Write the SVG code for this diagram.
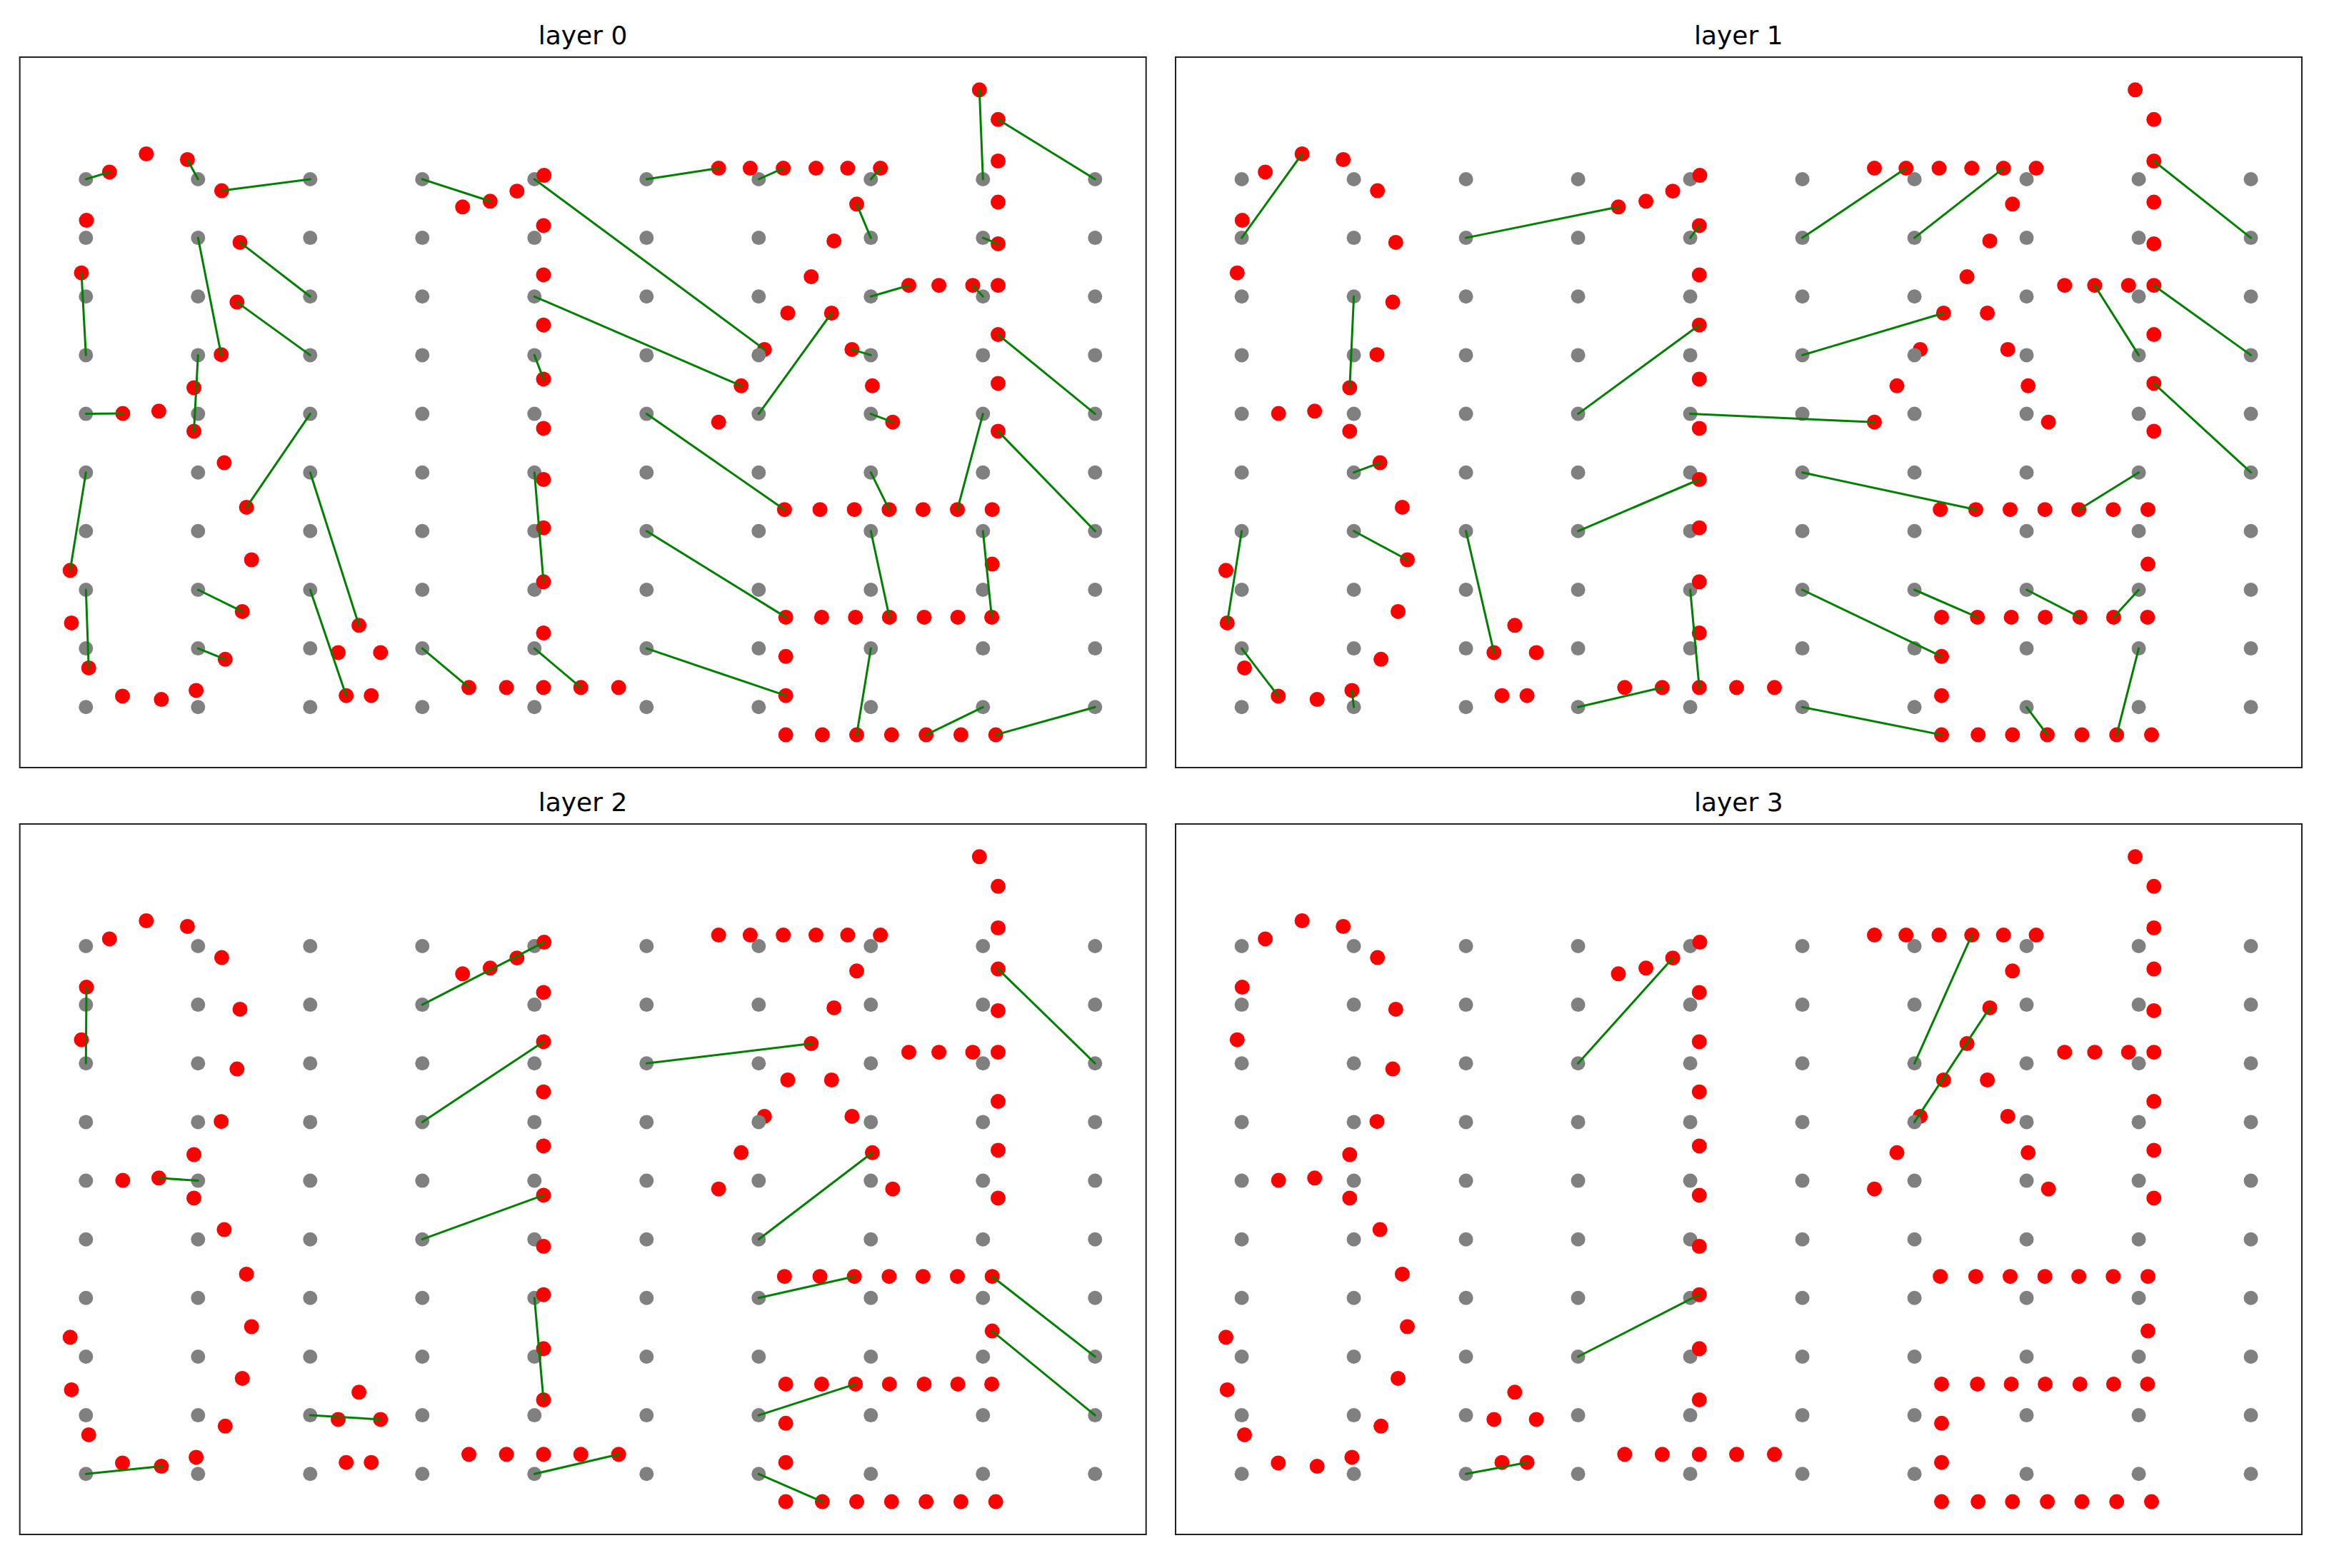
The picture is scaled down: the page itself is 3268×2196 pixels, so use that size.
<svg xmlns="http://www.w3.org/2000/svg" xmlns:xlink="http://www.w3.org/1999/xlink" width="3268" height="2196" viewBox="0 0 3268 2196">
<style>
.g{fill:#808080}
.r{fill:#ff0000}
.l{stroke:#008000;stroke-width:3;stroke-linecap:round;fill:none}
.f{fill:none;stroke:#222;stroke-width:2}
.t{font-family:"DejaVu Sans","Liberation Sans",sans-serif;font-size:36px;fill:#000;text-anchor:middle}
</style>
<defs>
<g id="gcol" class="g">
<circle cx="0" cy="251" r="10"/><circle cx="0" cy="333.1" r="10"/><circle cx="0" cy="415.3" r="10"/><circle cx="0" cy="497.4" r="10"/><circle cx="0" cy="579.6" r="10"/><circle cx="0" cy="661.7" r="10"/><circle cx="0" cy="743.8" r="10"/><circle cx="0" cy="826" r="10"/><circle cx="0" cy="908.1" r="10"/><circle cx="0" cy="990.3" r="10"/>
</g>
<g id="dots">
<circle class="r" cx="1070.3" cy="489.4" r="10.5"/>
<use href="#gcol" x="120.3"/><use href="#gcol" x="277.3"/><use href="#gcol" x="434.3"/><use href="#gcol" x="591.3"/><use href="#gcol" x="748.3"/><use href="#gcol" x="905.3"/><use href="#gcol" x="1062.3"/><use href="#gcol" x="1219.3"/><use href="#gcol" x="1376.3"/><use href="#gcol" x="1533.3"/>
<g class="r">
<circle cx="153.3" cy="240.9" r="10.5"/><circle cx="204.8" cy="215.5" r="10.5"/><circle cx="262.4" cy="223.5" r="10.5"/><circle cx="310.4" cy="267.1" r="10.5"/><circle cx="121" cy="308.6" r="10.5"/><circle cx="114" cy="382.2" r="10.5"/><circle cx="336" cy="339.4" r="10.5"/><circle cx="331.8" cy="423.1" r="10.5"/><circle cx="309.7" cy="496.7" r="10.5"/><circle cx="271.5" cy="543" r="10.5"/><circle cx="171.9" cy="579.1" r="10.5"/><circle cx="222.4" cy="575.8" r="10.5"/><circle cx="271.5" cy="603.9" r="10.5"/><circle cx="313.9" cy="648.1" r="10.5"/><circle cx="345.1" cy="710.4" r="10.5"/><circle cx="352.2" cy="784" r="10.5"/><circle cx="98.2" cy="798.8" r="10.5"/><circle cx="100" cy="872.4" r="10.5"/><circle cx="339.2" cy="856.4" r="10.5"/><circle cx="315.3" cy="923.3" r="10.5"/><circle cx="124.2" cy="935.4" r="10.5"/><circle cx="171.5" cy="974.9" r="10.5"/><circle cx="225.9" cy="979.6" r="10.5"/><circle cx="274.6" cy="966.9" r="10.5"/>
<circle cx="502.6" cy="875.8" r="10.5"/><circle cx="473.5" cy="913.9" r="10.5"/><circle cx="532.8" cy="913.9" r="10.5"/><circle cx="484.7" cy="974.2" r="10.5"/><circle cx="519.8" cy="974.2" r="10.5"/>
<circle cx="647.7" cy="289.8" r="10.5"/><circle cx="686.3" cy="281.8" r="10.5"/><circle cx="723.8" cy="267.7" r="10.5"/><circle cx="761.7" cy="245.6" r="10.5"/><circle cx="761" cy="315.9" r="10.5"/><circle cx="761" cy="384.9" r="10.5"/><circle cx="761" cy="455.2" r="10.5"/><circle cx="761" cy="530.9" r="10.5"/><circle cx="761" cy="599.9" r="10.5"/><circle cx="761" cy="671.5" r="10.5"/><circle cx="761" cy="739.2" r="10.5"/><circle cx="761" cy="814.8" r="10.5"/><circle cx="761" cy="886.5" r="10.5"/><circle cx="656.5" cy="962.8" r="10.5"/><circle cx="709.1" cy="962.8" r="10.5"/><circle cx="761" cy="962.8" r="10.5"/><circle cx="813.2" cy="962.8" r="10.5"/><circle cx="866.2" cy="962.8" r="10.5"/>
<circle cx="1006.2" cy="235.6" r="10.5"/><circle cx="1050.4" cy="235.6" r="10.5"/><circle cx="1096.7" cy="235.6" r="10.5"/><circle cx="1142.5" cy="235.6" r="10.5"/><circle cx="1186.9" cy="235.6" r="10.5"/><circle cx="1232.7" cy="235.6" r="10.5"/><circle cx="1199.5" cy="285.8" r="10.5"/><circle cx="1167.7" cy="337.4" r="10.5"/><circle cx="1135.8" cy="387.6" r="10.5"/><circle cx="1103" cy="438.5" r="10.5"/><circle cx="1037.7" cy="540.3" r="10.5"/><circle cx="1006.2" cy="591.2" r="10.5"/><circle cx="1164.3" cy="438.5" r="10.5"/><circle cx="1192.9" cy="489.4" r="10.5"/><circle cx="1221.4" cy="540.3" r="10.5"/><circle cx="1249.9" cy="591.2" r="10.5"/><circle cx="1272.5" cy="399.7" r="10.5"/><circle cx="1314.6" cy="399.7" r="10.5"/><circle cx="1362" cy="399.7" r="10.5"/><circle cx="1371.3" cy="125.8" r="10.5"/><circle cx="1397.5" cy="167.3" r="10.5"/><circle cx="1397.5" cy="225.5" r="10.5"/><circle cx="1397.5" cy="283.1" r="10.5"/><circle cx="1397.5" cy="341.4" r="10.5"/><circle cx="1397.5" cy="399.7" r="10.5"/><circle cx="1397.5" cy="468.6" r="10.5"/><circle cx="1397.5" cy="536.9" r="10.5"/><circle cx="1397.5" cy="603.9" r="10.5"/>
<circle cx="1098.4" cy="713.7" r="10.5"/><circle cx="1148.1" cy="713.7" r="10.5"/><circle cx="1196.2" cy="713.7" r="10.5"/><circle cx="1244.9" cy="713.7" r="10.5"/><circle cx="1292.4" cy="713.7" r="10.5"/><circle cx="1340.5" cy="713.7" r="10.5"/><circle cx="1389.2" cy="713.7" r="10.5"/><circle cx="1389.2" cy="790.1" r="10.5"/>
<circle cx="1100.2" cy="864.4" r="10.5"/><circle cx="1150.4" cy="864.4" r="10.5"/><circle cx="1197.8" cy="864.4" r="10.5"/><circle cx="1245.3" cy="864.4" r="10.5"/><circle cx="1294" cy="864.4" r="10.5"/><circle cx="1341.1" cy="864.4" r="10.5"/><circle cx="1388.6" cy="864.4" r="10.5"/><circle cx="1100.2" cy="919.3" r="10.5"/><circle cx="1100.2" cy="974.2" r="10.5"/>
<circle cx="1100.2" cy="1029.1" r="10.5"/><circle cx="1151.4" cy="1029.1" r="10.5"/><circle cx="1199.5" cy="1029.1" r="10.5"/><circle cx="1248.3" cy="1029.1" r="10.5"/><circle cx="1296.7" cy="1029.1" r="10.5"/><circle cx="1345.4" cy="1029.1" r="10.5"/><circle cx="1394.2" cy="1029.1" r="10.5"/>
</g>
</g>
</defs>
<rect x="0" y="0" width="3268" height="2196" fill="#fff"/>

<g id="layer0">
<rect class="f" x="27.7" y="80" width="1577" height="995"/>
<text class="t" x="816" y="62">layer 0</text>
<use href="#dots"/>
<g id="layer0-connectors" class="l">
<line x1="120.3" y1="251" x2="153.3" y2="240.9"/><line x1="277.3" y1="251" x2="262.4" y2="223.5"/><line x1="434.3" y1="251" x2="310.4" y2="267.1"/><line x1="277.3" y1="333.1" x2="309.7" y2="496.7"/><line x1="434.3" y1="415.3" x2="336" y2="339.4"/><line x1="434.3" y1="497.4" x2="331.8" y2="423.1"/><line x1="120.3" y1="497.4" x2="114" y2="382.2"/><line x1="277.3" y1="497.4" x2="271.5" y2="603.9"/><line x1="120.3" y1="579.6" x2="171.9" y2="579.1"/><line x1="434.3" y1="579.6" x2="345.1" y2="710.4"/><line x1="120.3" y1="661.7" x2="98.2" y2="798.8"/><line x1="434.3" y1="661.7" x2="502.6" y2="875.8"/><line x1="120.3" y1="826" x2="124.2" y2="935.4"/><line x1="277.3" y1="826" x2="339.2" y2="856.4"/><line x1="434.3" y1="826" x2="484.7" y2="974.2"/><line x1="277.3" y1="908.1" x2="315.3" y2="923.3"/>
<line x1="591.3" y1="251" x2="686.3" y2="281.8"/><line x1="748.3" y1="251" x2="1070.3" y2="489.4"/><line x1="748.3" y1="415.3" x2="1037.7" y2="540.3"/><line x1="748.3" y1="497.4" x2="761" y2="530.9"/><line x1="748.3" y1="661.7" x2="761" y2="814.8"/><line x1="591.3" y1="908.1" x2="656.5" y2="962.8"/><line x1="748.3" y1="908.1" x2="813.2" y2="962.8"/><line x1="905.3" y1="251" x2="1006.2" y2="235.6"/><line x1="1062.3" y1="251" x2="1096.7" y2="235.6"/><line x1="1062.3" y1="579.6" x2="1164.3" y2="438.5"/><line x1="905.3" y1="579.6" x2="1098.4" y2="713.7"/><line x1="905.3" y1="743.8" x2="1100.2" y2="864.4"/><line x1="905.3" y1="908.1" x2="1100.2" y2="974.2"/>
<line x1="1219.3" y1="251" x2="1232.7" y2="235.6"/><line x1="1219.3" y1="333.1" x2="1199.5" y2="285.8"/><line x1="1219.3" y1="415.3" x2="1272.5" y2="399.7"/><line x1="1376.3" y1="415.3" x2="1362" y2="399.7"/><line x1="1376.3" y1="251" x2="1371.3" y2="125.8"/><line x1="1376.3" y1="333.1" x2="1397.5" y2="341.4"/><line x1="1533.3" y1="251" x2="1397.5" y2="167.3"/><line x1="1219.3" y1="497.4" x2="1192.9" y2="489.4"/><line x1="1219.3" y1="579.6" x2="1249.9" y2="591.2"/><line x1="1533.3" y1="579.6" x2="1397.5" y2="468.6"/><line x1="1533.3" y1="743.8" x2="1397.5" y2="603.9"/><line x1="1219.3" y1="661.7" x2="1244.9" y2="713.7"/><line x1="1376.3" y1="579.6" x2="1340.5" y2="713.7"/><line x1="1219.3" y1="743.8" x2="1245.3" y2="864.4"/><line x1="1376.3" y1="743.8" x2="1388.6" y2="864.4"/><line x1="1219.3" y1="908.1" x2="1199.5" y2="1029.1"/><line x1="1376.3" y1="990.3" x2="1296.7" y2="1029.1"/><line x1="1533.3" y1="990.3" x2="1394.2" y2="1029.1"/>
</g>
</g>

<g id="layer1" transform="translate(1618.3,0)">
<rect class="f" x="27.7" y="80" width="1577" height="995"/>
<text class="t" x="816" y="62">layer 1</text>
<use href="#dots"/>
<g id="layer1-connectors" class="l">
<line x1="120.3" y1="333.1" x2="204.8" y2="215.5"/><line x1="277.3" y1="415.3" x2="271.5" y2="543"/><line x1="277.3" y1="661.7" x2="313.9" y2="648.1"/><line x1="277.3" y1="743.8" x2="352.2" y2="784"/><line x1="120.3" y1="743.8" x2="100" y2="872.4"/><line x1="120.3" y1="908.1" x2="171.5" y2="974.9"/><line x1="277.3" y1="990.3" x2="274.6" y2="966.9"/><line x1="434.3" y1="743.8" x2="473.5" y2="913.9"/><line x1="434.3" y1="333.1" x2="647.7" y2="289.8"/>
<line x1="748.3" y1="333.1" x2="761" y2="315.9"/><line x1="591.3" y1="579.6" x2="761" y2="455.2"/><line x1="748.3" y1="579.6" x2="1006.2" y2="591.2"/><line x1="591.3" y1="743.8" x2="761" y2="671.5"/><line x1="748.3" y1="826" x2="761" y2="962.8"/><line x1="591.3" y1="990.3" x2="709.1" y2="962.8"/><line x1="905.3" y1="333.1" x2="1050.4" y2="235.6"/><line x1="1062.3" y1="333.1" x2="1186.9" y2="235.6"/><line x1="905.3" y1="497.4" x2="1103" y2="438.5"/><line x1="905.3" y1="661.7" x2="1148.1" y2="713.7"/><line x1="1062.3" y1="826" x2="1150.4" y2="864.4"/><line x1="905.3" y1="826" x2="1100.2" y2="919.3"/><line x1="905.3" y1="990.3" x2="1100.2" y2="1029.1"/>
<line x1="1376.3" y1="497.4" x2="1314.6" y2="399.7"/><line x1="1533.3" y1="333.1" x2="1397.5" y2="225.5"/><line x1="1533.3" y1="497.4" x2="1397.5" y2="399.7"/><line x1="1533.3" y1="661.7" x2="1397.5" y2="536.9"/><line x1="1376.3" y1="661.7" x2="1292.4" y2="713.7"/><line x1="1219.3" y1="826" x2="1294" y2="864.4"/><line x1="1376.3" y1="826" x2="1341.1" y2="864.4"/><line x1="1219.3" y1="990.3" x2="1248.3" y2="1029.1"/><line x1="1376.3" y1="908.1" x2="1345.4" y2="1029.1"/>
</g>
</g>

<g id="layer2" transform="translate(0,1074)">
<rect class="f" x="27.7" y="80" width="1577" height="995"/>
<text class="t" x="816" y="62">layer 2</text>
<use href="#dots"/>
<g id="layer2-connectors" class="l">
<line x1="120.3" y1="415.3" x2="121" y2="308.6"/><line x1="277.3" y1="579.6" x2="222.4" y2="575.8"/><line x1="120.3" y1="990.3" x2="225.9" y2="979.6"/><line x1="434.3" y1="908.1" x2="532.8" y2="913.9"/>
<line x1="591.3" y1="333.1" x2="761.7" y2="245.6"/><line x1="591.3" y1="497.4" x2="761" y2="384.9"/><line x1="591.3" y1="661.7" x2="761" y2="599.9"/><line x1="748.3" y1="743.8" x2="761" y2="886.5"/><line x1="748.3" y1="990.3" x2="866.2" y2="962.8"/>
<line x1="905.3" y1="415.3" x2="1135.8" y2="387.6"/><line x1="1062.3" y1="661.7" x2="1221.4" y2="540.3"/><line x1="1062.3" y1="743.8" x2="1196.2" y2="713.7"/><line x1="1062.3" y1="908.1" x2="1197.8" y2="864.4"/><line x1="1062.3" y1="990.3" x2="1151.4" y2="1029.1"/>
<line x1="1533.3" y1="415.3" x2="1397.5" y2="283.1"/><line x1="1533.3" y1="826" x2="1389.2" y2="713.7"/><line x1="1533.3" y1="908.1" x2="1389.2" y2="790.1"/>
</g>
</g>

<g id="layer3" transform="translate(1618.3,1074)">
<rect class="f" x="27.7" y="80" width="1577" height="995"/>
<text class="t" x="816" y="62">layer 3</text>
<use href="#dots"/>
<g id="layer3-connectors" class="l">
<line x1="434.3" y1="990.3" x2="519.8" y2="974.2"/><line x1="591.3" y1="415.3" x2="723.8" y2="267.7"/><line x1="591.3" y1="826" x2="761" y2="739.2"/><line x1="1062.3" y1="415.3" x2="1142.5" y2="235.6"/><line x1="1062.3" y1="497.4" x2="1167.7" y2="337.4"/>
</g>
</g>
</svg>
